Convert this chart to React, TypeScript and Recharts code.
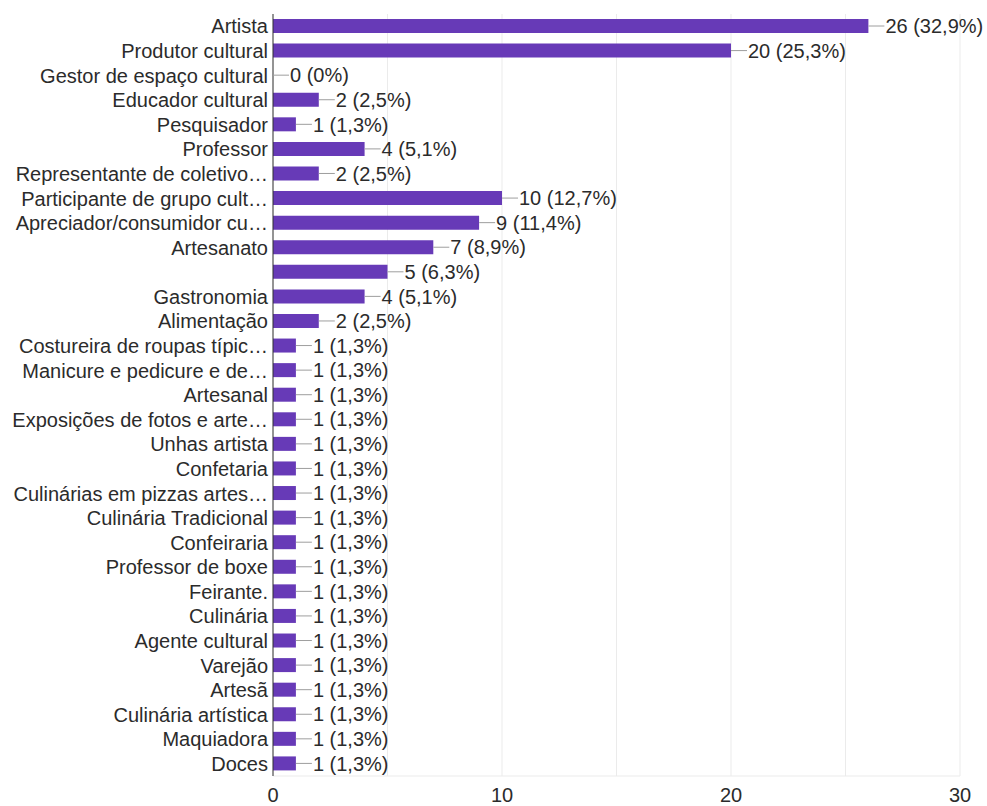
import { Bar, BarChart, CartesianGrid, LabelList, Rectangle, XAxis, YAxis } from 'recharts'

const categories = [
  'Artista',
  'Produtor cultural',
  'Gestor de espaço cultural',
  'Educador cultural',
  'Pesquisador',
  'Professor',
  'Representante de coletivo…',
  'Participante de grupo cult…',
  'Apreciador/consumidor cu…',
  'Artesanato',
  '',
  'Gastronomia',
  'Alimentação',
  'Costureira de roupas típic…',
  'Manicure e pedicure e de…',
  'Artesanal',
  'Exposições de fotos e arte…',
  'Unhas artista',
  'Confetaria',
  'Culinárias em pizzas artes…',
  'Culinária Tradicional',
  'Confeiraria',
  'Professor de boxe',
  'Feirante.',
  'Culinária',
  'Agente cultural',
  'Varejão',
  'Artesã',
  'Culinária artística',
  'Maquiadora',
  'Doces',
]

const counts = [26, 20, 0, 2, 1, 4, 2, 10, 9, 7, 5, 4, 2, 1, 1, 1, 1, 1, 1, 1, 1, 1, 1, 1, 1, 1, 1, 1, 1, 1, 1]

const respondents = 79
const xTicks = [0, 5, 10, 15, 20, 25, 30]
const xTickLabels = [0, 10, 20, 30]

const data = categories.map((name, i) => ({ id: i, name, count: counts[i] }))

const FONT = '"Liberation Sans", Arial, sans-serif'
const FS = 20
const TEXT = '#2b2b2b'

function pct(v: number) {
  if (v === 0) return '0%'
  const p = Math.round((v / respondents) * 1000) / 10
  return `${String(p).replace('.', ',')}%`
}

function ValueLabel(props: any) {
  const { x, y, width, height, value } = props
  const x0 = Number(x) + (Number(value) === 0 ? 0 : Number(width))
  const cy = Number(y) + Number(height) / 2
  return (
    <g>
      <line x1={x0} y1={cy} x2={x0 + 16} y2={cy} stroke="#9e9e9e" strokeWidth={1} />
      <text x={x0 + 17} y={cy} dy="0.36em" fontSize={FS} fill={TEXT} fontFamily={FONT}>
        {`${value} (${pct(Number(value))})`}
      </text>
    </g>
  )
}

function BarShape(props: any) {
  if (props.count === 0) return <g />
  return <Rectangle {...props} />
}

function CategoryTick(props: any) {
  const { x, y, payload } = props
  const name = categories[payload.value] ?? ''
  return (
    <text x={x} y={y} dy="0.36em" textAnchor="end" fontSize={FS} fill={TEXT} fontFamily={FONT}>
      {name}
    </text>
  )
}

function XTick(props: any) {
  const { x, y, payload } = props
  if (!xTickLabels.includes(payload.value)) return null
  return (
    <text x={x} y={y} dy="0.36em" textAnchor="middle" fontSize={FS} fill={TEXT} fontFamily={FONT}>
      {payload.value}
    </text>
  )
}

export default function App() {
  return (
    <div style={{ position: 'absolute', left: 0, top: 0 }}>
      <BarChart
        width={987}
        height={806}
        data={data}
        layout="vertical"
        margin={{ top: 14, right: 27, left: 0, bottom: 0 }}
      >
        <CartesianGrid horizontal={false} stroke="#ebebeb" />
        <XAxis
          type="number"
          domain={[0, 30]}
          ticks={xTicks}
          interval={0}
          tick={<XTick />}
          tickLine={false}
          tickMargin={13}
          height={30}
          axisLine={{ stroke: '#ebebeb' }}
        />
        <XAxis
          xAxisId="top"
          orientation="top"
          type="number"
          domain={[0, 30]}
          tick={false}
          tickLine={false}
          height={0}
          axisLine={{ stroke: '#ebebeb' }}
        />
        <YAxis
          type="category"
          dataKey="id"
          width={273}
          interval={0}
          tick={<CategoryTick />}
          tickLine={false}
          tickSize={3}
          axisLine={{ stroke: '#333' }}
        />
        <Bar
          dataKey="count"
          fill="#673ab7"
          barSize={14}
          minPointSize={(v: any) => (Number(v) === 0 ? 1 : 0)}
          shape={<BarShape />}
          isAnimationActive={false}
        >
          <LabelList dataKey="count" content={<ValueLabel />} />
        </Bar>
      </BarChart>
    </div>
  )
}
